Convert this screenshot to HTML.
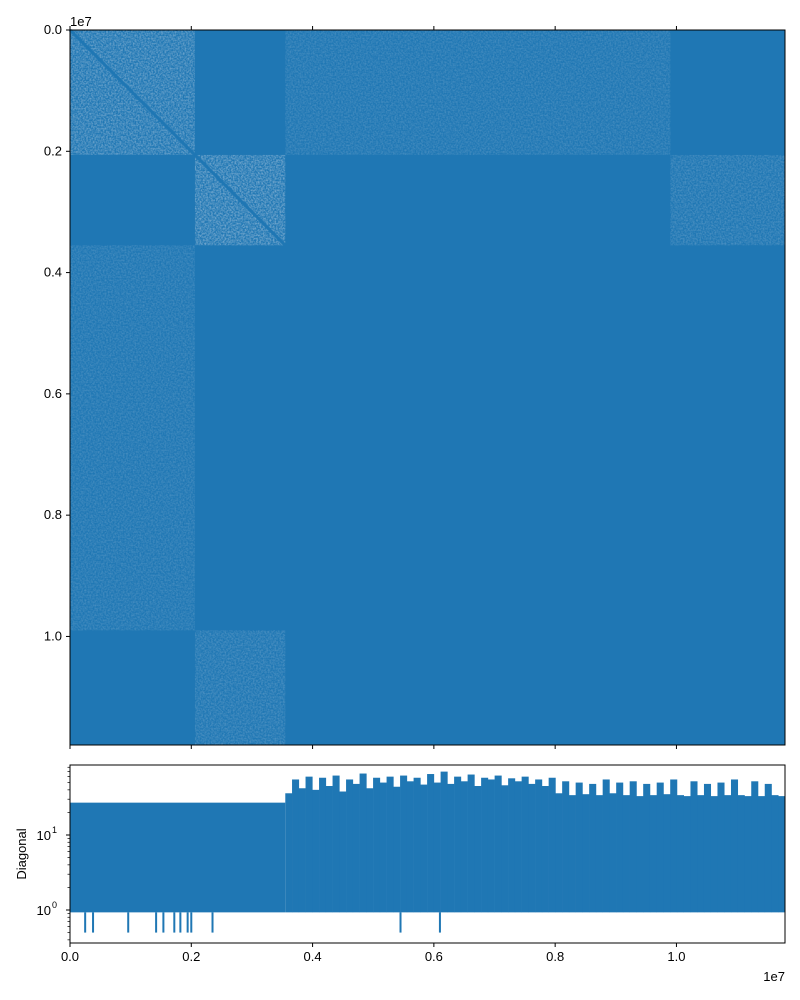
<!DOCTYPE html>
<html><head><meta charset="utf-8"><style>
body{margin:0;background:#fff;}
svg{display:block;font-family:"Liberation Sans","DejaVu Sans",sans-serif;}
</style></head><body>
<svg id="fig" width="800" height="1000" viewBox="0 0 800 1000">
<defs>
<filter id="noise" x="0" y="0" width="100%" height="100%">
<feTurbulence type="fractalNoise" baseFrequency="0.6" numOctaves="2" seed="3" result="t"/>
<feColorMatrix in="t" type="matrix" values="0 0 0 0 0.85  0 0 0 0 0.85  0 0 0 0 0.9  0 0 0 -2.0 1.4" result="w"/>
<feComposite in="w" in2="SourceGraphic" operator="in"/>
</filter>
</defs>
<g id="main"></g>
<g id="diag"></g>
</svg>
<script>
const NS="http://www.w3.org/2000/svg";
// genome length and block boundaries (bp)
const genomeLength=11790000;
const blockStarts=[0,2060000,3550000,9900000];
const blockEnds=[2060000,3550000,9900000,11790000];
// enriched blocks: [rowBlock, colBlock, density]
const enrichedRow=[0,1,0,1,2,3];
const enrichedCol=[0,1,2,3,0,1];
const enrichedDensity=[0.35,0.4,0.17,0.2,0.17,0.2];
const xTicks=[0,2000000,4000000,6000000,8000000,10000000];
const xTickLabels=["0.0","0.2","0.4","0.6","0.8","1.0"];
// diagonal plot data
const leftLevel=27;
const rightBins=[36,55,42,60,40,58,45,62,38,55,48,66,42,58,50,60,44,62,52,58,47,65,50,70,48,60,52,64,45,58,55,62,46,57,52,60,48,55,45,58,36,52,34,50,35,48,34,55,36,50,34,52,33,48,34,50,35,55,34,33,52,34,48,33,50,34,55,34,33,52,33,48,34,33];
const dipPositions=[250000,380000,960000,1420000,1540000,1720000,1820000,1940000,2000000,2350000,5450000,6100000];
const dipValues=[0.5,0.5,0.5,0.5,0.5,0.5,0.5,0.5,0.5,0.5,0.5,0.5];
const yTickVals=[1,10];
const yTickLabels=["0","1"];

const X0=70,X1=785,Y0=30,Y1=745;
const mx=v=>X0+v/genomeLength*(X1-X0);
const my=v=>Y0+v/genomeLength*(Y1-Y0);
const BY0=765,BY1=943;
const by=v=>910-Math.log10(v)*75;
function el(t,a,p){const e=document.createElementNS(NS,t);for(const k in a)e.setAttribute(k,a[k]);p.appendChild(e);return e;}
const main=document.getElementById('main');
const bg=el('rect',{x:X0,y:Y0,width:X1-X0,height:Y1-Y0,fill:'#1f77b4'},main);


for(let i=0;i<enrichedRow.length;i++){
 const r=enrichedRow[i],c=enrichedCol[i];
 const x=mx(blockStarts[c]),y=my(blockStarts[r]);
 const w=mx(blockEnds[c])-x,h=my(blockEnds[r])-y;
 const g=el('g',{},main);
 
 
 el('rect',{x:x,y:y,width:w,height:h,fill:'#1f77b4'},g);
 el('rect',{x:x,y:y,width:w,height:h,fill:'#fff',filter:'url(#noise)',opacity:enrichedDensity[i]},g);
 if(r===c){const l=el('line',{x1:x,y1:y,x2:x+w,y2:y+h,stroke:'#1f77b4','stroke-width':3},g);
  
  }
}
el('rect',{x:X0,y:Y0,width:X1-X0,height:Y1-Y0,fill:'none',stroke:'#000','stroke-width':1},main);
const my0=[0,2000000,4000000,6000000,8000000,10000000];
for(let i=0;i<xTicks.length;i++){
 el('line',{x1:mx(xTicks[i]),x2:mx(xTicks[i]),y1:Y0,y2:Y0-4,stroke:'#000'},main);
 el('line',{x1:mx(xTicks[i]),x2:mx(xTicks[i]),y1:Y1,y2:Y1+4,stroke:'#000'},main);
 el('line',{x1:X0,x2:X0-4,y1:my(my0[i]),y2:my(my0[i]),stroke:'#000'},main);
 const t=el('text',{x:X0-8,y:my(my0[i])+4,'text-anchor':'end','font-size':13},main);t.textContent=xTickLabels[i];
 
 
}
const e1=el('text',{x:X0,y:Y0-4,'font-size':13},main);e1.textContent='1e7';

const d=document.getElementById('diag');
const lb=el('rect',{x:X0,y:by(leftLevel),width:mx(blockEnds[1])-X0,height:by(0.93)-by(leftLevel),fill:'#1f77b4'},d);


const bw=(genomeLength-blockEnds[1])/rightBins.length;
for(let i=0;i<rightBins.length;i++){
 const x=mx(blockEnds[1]+i*bw),x2=mx(blockEnds[1]+(i+1)*bw);
 const r=el('rect',{x:x,y:by(rightBins[i]),width:x2-x+0.3,height:by(0.93)-by(rightBins[i]),fill:'#1f77b4'},d);
 
 
}
for(let i=0;i<dipPositions.length;i++){
 const x=mx(dipPositions[i]);
 const r=el('rect',{x:x-1,y:by(0.93),width:2,height:by(dipValues[i])-by(0.93),fill:'#1f77b4'},d);
 
 
}
el('rect',{x:X0,y:BY0,width:X1-X0,height:BY1-BY0,fill:'none',stroke:'#000'},d);
for(let i=0;i<xTicks.length;i++){
 el('line',{x1:mx(xTicks[i]),x2:mx(xTicks[i]),y1:BY1,y2:BY1+4,stroke:'#000'},d);
 const t=el('text',{x:mx(xTicks[i]),y:BY1+18,'text-anchor':'middle','font-size':13},d);t.textContent=xTickLabels[i];
 
 
}
const e2=el('text',{x:X1,y:BY1+38,'text-anchor':'end','font-size':13},d);e2.textContent='1e7';
for(let dec=-1;dec<=1;dec++)for(let k=2;k<=9;k++){const v=k*Math.pow(10,dec),y=by(v);if(y>BY0&&y<BY1)el('line',{x1:X0,x2:X0-2.5,y1:y,y2:y,stroke:'#000','stroke-width':0.7},d);}
for(let i=0;i<yTickVals.length;i++){
 const y=by(yTickVals[i]);
 el('line',{x1:X0,x2:X0-4,y1:y,y2:y,stroke:'#000'},d);
 const t=el('text',{x:X0-19,y:y+5,'text-anchor':'end','font-size':13},d);t.textContent='10';
 const s=el('text',{x:X0-18,y:y-2,'font-size':9},d);s.textContent=yTickLabels[i];
}
const yl=el('text',{x:26,y:854,'text-anchor':'middle','font-size':13,transform:'rotate(-90 26 854)'},d);yl.textContent='Diagonal';


</script>
</body></html>
